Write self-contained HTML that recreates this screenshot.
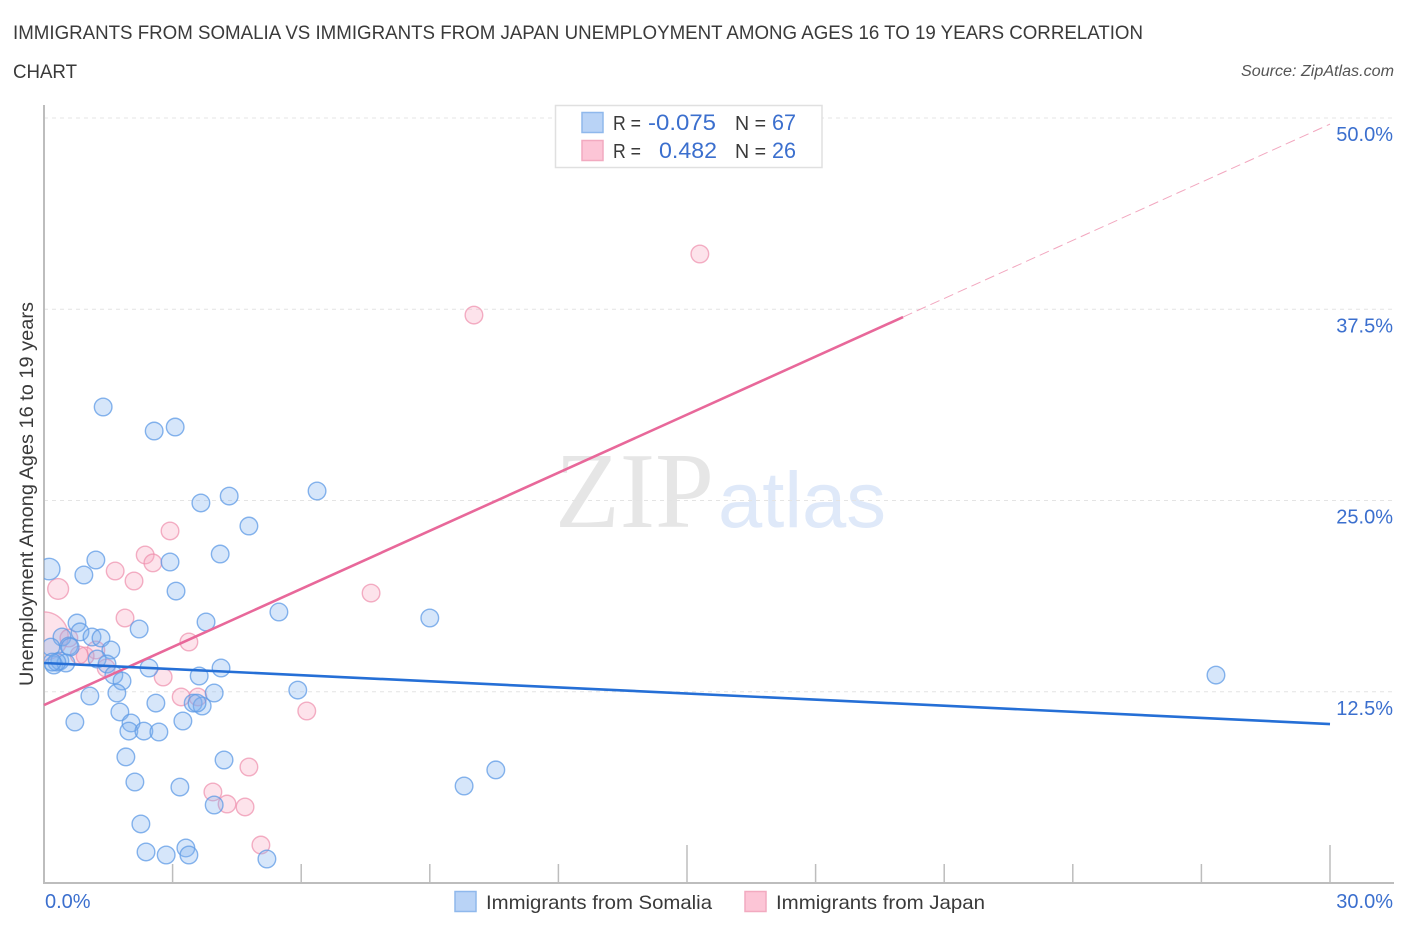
<!DOCTYPE html>
<html lang="en">
<head>
<meta charset="utf-8">
<title>Immigrants from Somalia vs Immigrants from Japan Unemployment Correlation Chart</title>
<style>
html,body{margin:0;padding:0;background:#fff;width:1406px;height:930px;overflow:hidden}
svg{display:block}
text{font-family:"Liberation Sans",sans-serif}
</style>
</head>
<body>
<svg id="chart" xmlns="http://www.w3.org/2000/svg" width="1406" height="930" viewBox="0 0 1406 930">
  <defs><clipPath id="plot-clip"><rect x="44" y="100" width="1350" height="783"/></clipPath></defs>
  <rect width="1406" height="930" fill="#fff"/>
  <text x="13" y="39" font-size="19" fill="#3a3a3a" textLength="1130" lengthAdjust="spacingAndGlyphs">IMMIGRANTS FROM SOMALIA VS IMMIGRANTS FROM JAPAN UNEMPLOYMENT AMONG AGES 16 TO 19 YEARS CORRELATION</text>
  <text x="13" y="78" font-size="19" fill="#3a3a3a" textLength="64" lengthAdjust="spacingAndGlyphs">CHART</text>
  <text x="1241" y="76" font-size="15.5" font-style="italic" fill="#555" textLength="153" lengthAdjust="spacingAndGlyphs">Source: ZipAtlas.com</text>

  <g>
    <text x="555" y="527" font-size="108" fill="#e6e6e6" style="font-family:'Liberation Serif',serif" textLength="159" lengthAdjust="spacingAndGlyphs">ZIP</text>
    <text x="718" y="527" font-size="79" fill="#dfe9f9" textLength="168" lengthAdjust="spacingAndGlyphs">atlas</text>
  </g>

  <g id="grid"></g>
  <g id="axes"></g>
  <g id="points-japan" clip-path="url(#plot-clip)"></g>
  <g id="points-somalia" clip-path="url(#plot-clip)"></g>
  <g id="trends"></g>

  <g>
    <rect x="555.5" y="105.5" width="266.5" height="62" fill="#fff" stroke="#e0e0e0" stroke-width="1.5"/>
    <rect x="582" y="112.5" width="21" height="20" fill="#b9d3f6" stroke="#8fb8ec" stroke-width="1.5"/>
    <rect x="582" y="140.5" width="21" height="20" fill="#fcc5d6" stroke="#f2aac0" stroke-width="1.5"/>
    <text x="613" y="130" font-size="20" fill="#3a3a3a" textLength="28" lengthAdjust="spacingAndGlyphs">R =</text>
    <text x="648" y="130" font-size="22" fill="#3b6fce" textLength="68" lengthAdjust="spacingAndGlyphs">-0.075</text>
    <text x="735" y="130" font-size="20" fill="#3a3a3a" textLength="31" lengthAdjust="spacingAndGlyphs">N =</text>
    <text x="772" y="130" font-size="22" fill="#3b6fce" textLength="24" lengthAdjust="spacingAndGlyphs">67</text>
    <text x="613" y="158" font-size="20" fill="#3a3a3a" textLength="28" lengthAdjust="spacingAndGlyphs">R =</text>
    <text x="659" y="158" font-size="22" fill="#3b6fce" textLength="58" lengthAdjust="spacingAndGlyphs">0.482</text>
    <text x="735" y="158" font-size="20" fill="#3a3a3a" textLength="31" lengthAdjust="spacingAndGlyphs">N =</text>
    <text x="772" y="158" font-size="22" fill="#3b6fce" textLength="24" lengthAdjust="spacingAndGlyphs">26</text>
  </g>

  <text transform="translate(33,494) rotate(-90)" font-size="19" fill="#3a3a3a" text-anchor="middle" textLength="384" lengthAdjust="spacingAndGlyphs">Unemployment Among Ages 16 to 19 years</text>

  <g>
    <g>
      <rect x="455" y="891.5" width="21" height="20" fill="#b9d3f6" stroke="#8fb8ec" stroke-width="1.5"/>
      <text x="486" y="909" font-size="19.5" fill="#3a3a3a" textLength="226" lengthAdjust="spacingAndGlyphs">Immigrants from Somalia</text>
    </g>
    <g>
      <rect x="745" y="891.5" width="21" height="20" fill="#fcc5d6" stroke="#f2aac0" stroke-width="1.5"/>
      <text x="776" y="909" font-size="19.5" fill="#3a3a3a" textLength="209" lengthAdjust="spacingAndGlyphs">Immigrants from Japan</text>
    </g>
  </g>
</svg>
<script>
const somaliaX = [0.12,0.93,1.21,1.38,2.57,3.06,3.66,4.32,6.37,4.78,4.11,2.94,3.08,5.48,3.78,2.22,9.00,27.34,0.77,0.84,1.12,1.33,1.56,0.42,0.58,0.16,0.61,0.23,0.37,0.51,0.30,1.24,1.47,1.63,1.82,1.70,1.07,2.45,3.62,4.13,3.97,2.61,1.77,0.72,2.03,1.98,2.33,2.68,3.24,3.48,3.69,3.57,1.91,4.20,2.12,3.17,3.97,2.26,2.38,2.85,3.31,3.38,5.20,5.92,9.80,10.54,0.19];
const somaliaY = [20.52,20.13,21.11,31.11,29.54,29.80,24.84,25.29,25.62,23.33,21.50,20.98,19.08,17.71,17.06,16.60,17.32,13.59,16.99,16.41,16.08,16.01,15.23,16.08,15.49,15.42,15.42,14.25,14.51,14.38,14.44,14.64,14.31,13.59,13.20,12.42,12.22,14.05,13.53,14.05,12.42,11.76,11.18,10.52,10.46,9.93,9.93,9.87,10.59,11.76,11.57,11.76,8.24,8.04,6.60,6.27,5.10,3.86,2.03,1.83,2.29,1.83,1.57,12.61,6.34,7.39,14.44];
const somaliaWeight = [1.5,1,1,1,1,1,1,1,1,1,1,1,1,1,1,1,1,1,1,1,1,1,1,1,1,1,1,1,1,1,1,1,1,1,1,1,1,1,1,1,1,1,1,1,1,1,1,1,1,1,1,1,1,1,1,1,1,1,1,1,1,1,1,1,1,1,1];
const japanX = [15.30,10.03,2.94,2.36,2.54,1.66,2.10,0.33,7.63,1.89,0.00,3.38,2.78,3.20,3.59,6.13,4.78,3.94,4.27,4.69,5.06,0.58,1.21,0.96,0.82,1.45];
const japanY = [41.11,37.12,23.01,21.44,20.92,20.39,19.74,19.22,18.95,17.32,16.14,15.75,13.46,12.16,12.16,11.24,7.58,5.95,5.16,4.97,2.48,16.01,15.23,14.84,14.90,14.05];
const japanWeight = [1,1,1,1,1,1,1,1.4,1,1,7.5,1,1,1,1,1,1,1,1,1,1,1,1,1,1,1];
const somaliaTrendX = [0,30];
const somaliaTrendY = [14.38,10.39];
const japanTrendX = [0,20.04];
const japanTrendY = [11.63,36.99];
const japanDashX = [20.04,30];
const japanDashY = [36.99,49.6];
const yTickValues = [12.5,25,37.5,50];
const yTickLabels = ["12.5%","25.0%","37.5%","50.0%"];
const xTickValues = [3,6,9,12,15,18,21,24,27,30];
const xMajorTicks = [15,30];
const xEndLabels = ["0.0%","30.0%"];
const xEndValues = [0,30];

const NS = 'http://www.w3.org/2000/svg';
const xScale = v => 44 + v * (1286 / 30);
const yScale = v => 883 - v * (765 / 50);
const make = (tag, attrs, parent) => {
  const el = document.createElementNS(NS, tag);
  for (const k in attrs) el.setAttribute(k, attrs[k]);
  parent.appendChild(el);
  return el;
};
const gridG = document.getElementById('grid');
const axesG = document.getElementById('axes');
const trendG = document.getElementById('trends');

yTickValues.forEach((v, i) => {
  const g = make('line', {x1:44, x2:1394, y1:yScale(v), y2:yScale(v), stroke:'#e4e4e4', 'stroke-width':1, 'stroke-dasharray':'4 4'}, gridG);
  
  
  const t = make('text', {x:1393, y:yScale(v) + 23, 'font-size':20, fill:'#3b6fce', 'text-anchor':'end'}, axesG);
  t.textContent = yTickLabels[i];
  
  
});

const yAxis = make('line', {x1:44, x2:44, y1:105, y2:884, stroke:'#bdbdbd', 'stroke-width':2}, axesG);


const xAxis = make('line', {x1:43, x2:1394, y1:883, y2:883, stroke:'#bdbdbd', 'stroke-width':2}, axesG);



xTickValues.forEach(v => {
  const top = xMajorTicks.includes(v) ? 845 : 864;
  const tk = make('line', {x1:xScale(v), x2:xScale(v), y1:top, y2:883, stroke:'#bdbdbd', 'stroke-width':1.5}, axesG);
  
  
});
xEndValues.forEach((v, i) => {
  const t = make('text', {x: i === 0 ? 45 : 1393, y:908, 'font-size':20, fill:'#3b6fce', 'text-anchor': i === 0 ? 'start' : 'end'}, axesG);
  t.textContent = xEndLabels[i];
  
  
});

const baseR = 8.8;
japanX.forEach((v, i) => {
  const c = make('circle', {cx:xScale(v), cy:yScale(japanY[i]), r:baseR * Math.sqrt(japanWeight[i]), fill:'#f9a9c0', 'fill-opacity':0.32, stroke:'#ee8fac', 'stroke-opacity':0.7, 'stroke-width':1.4}, document.getElementById('points-japan'));
  
  
});
somaliaX.forEach((v, i) => {
  const c = make('circle', {cx:xScale(v), cy:yScale(somaliaY[i]), r:baseR * Math.sqrt(somaliaWeight[i]), fill:'#7fb0ee', 'fill-opacity':0.32, stroke:'#5f9be6', 'stroke-opacity':0.75, 'stroke-width':1.4}, document.getElementById('points-somalia'));
  
  
});

const dash = make('line', {x1:xScale(japanDashX[0]), y1:yScale(japanDashY[0]), x2:xScale(japanDashX[1]), y2:yScale(japanDashY[1]), stroke:'#ee8aaa', 'stroke-width':1, 'stroke-dasharray':'10 5', 'stroke-opacity':0.75}, trendG);


const jt = make('line', {x1:xScale(japanTrendX[0]), y1:yScale(japanTrendY[0]), x2:xScale(japanTrendX[1]), y2:yScale(japanTrendY[1]), stroke:'#e8689a', 'stroke-width':2.6}, trendG);


const st = make('line', {x1:xScale(somaliaTrendX[0]), y1:yScale(somaliaTrendY[0]), x2:xScale(somaliaTrendX[1]), y2:yScale(somaliaTrendY[1]), stroke:'#256fd6', 'stroke-width':2.6}, trendG);


</script>
</body>
</html>
